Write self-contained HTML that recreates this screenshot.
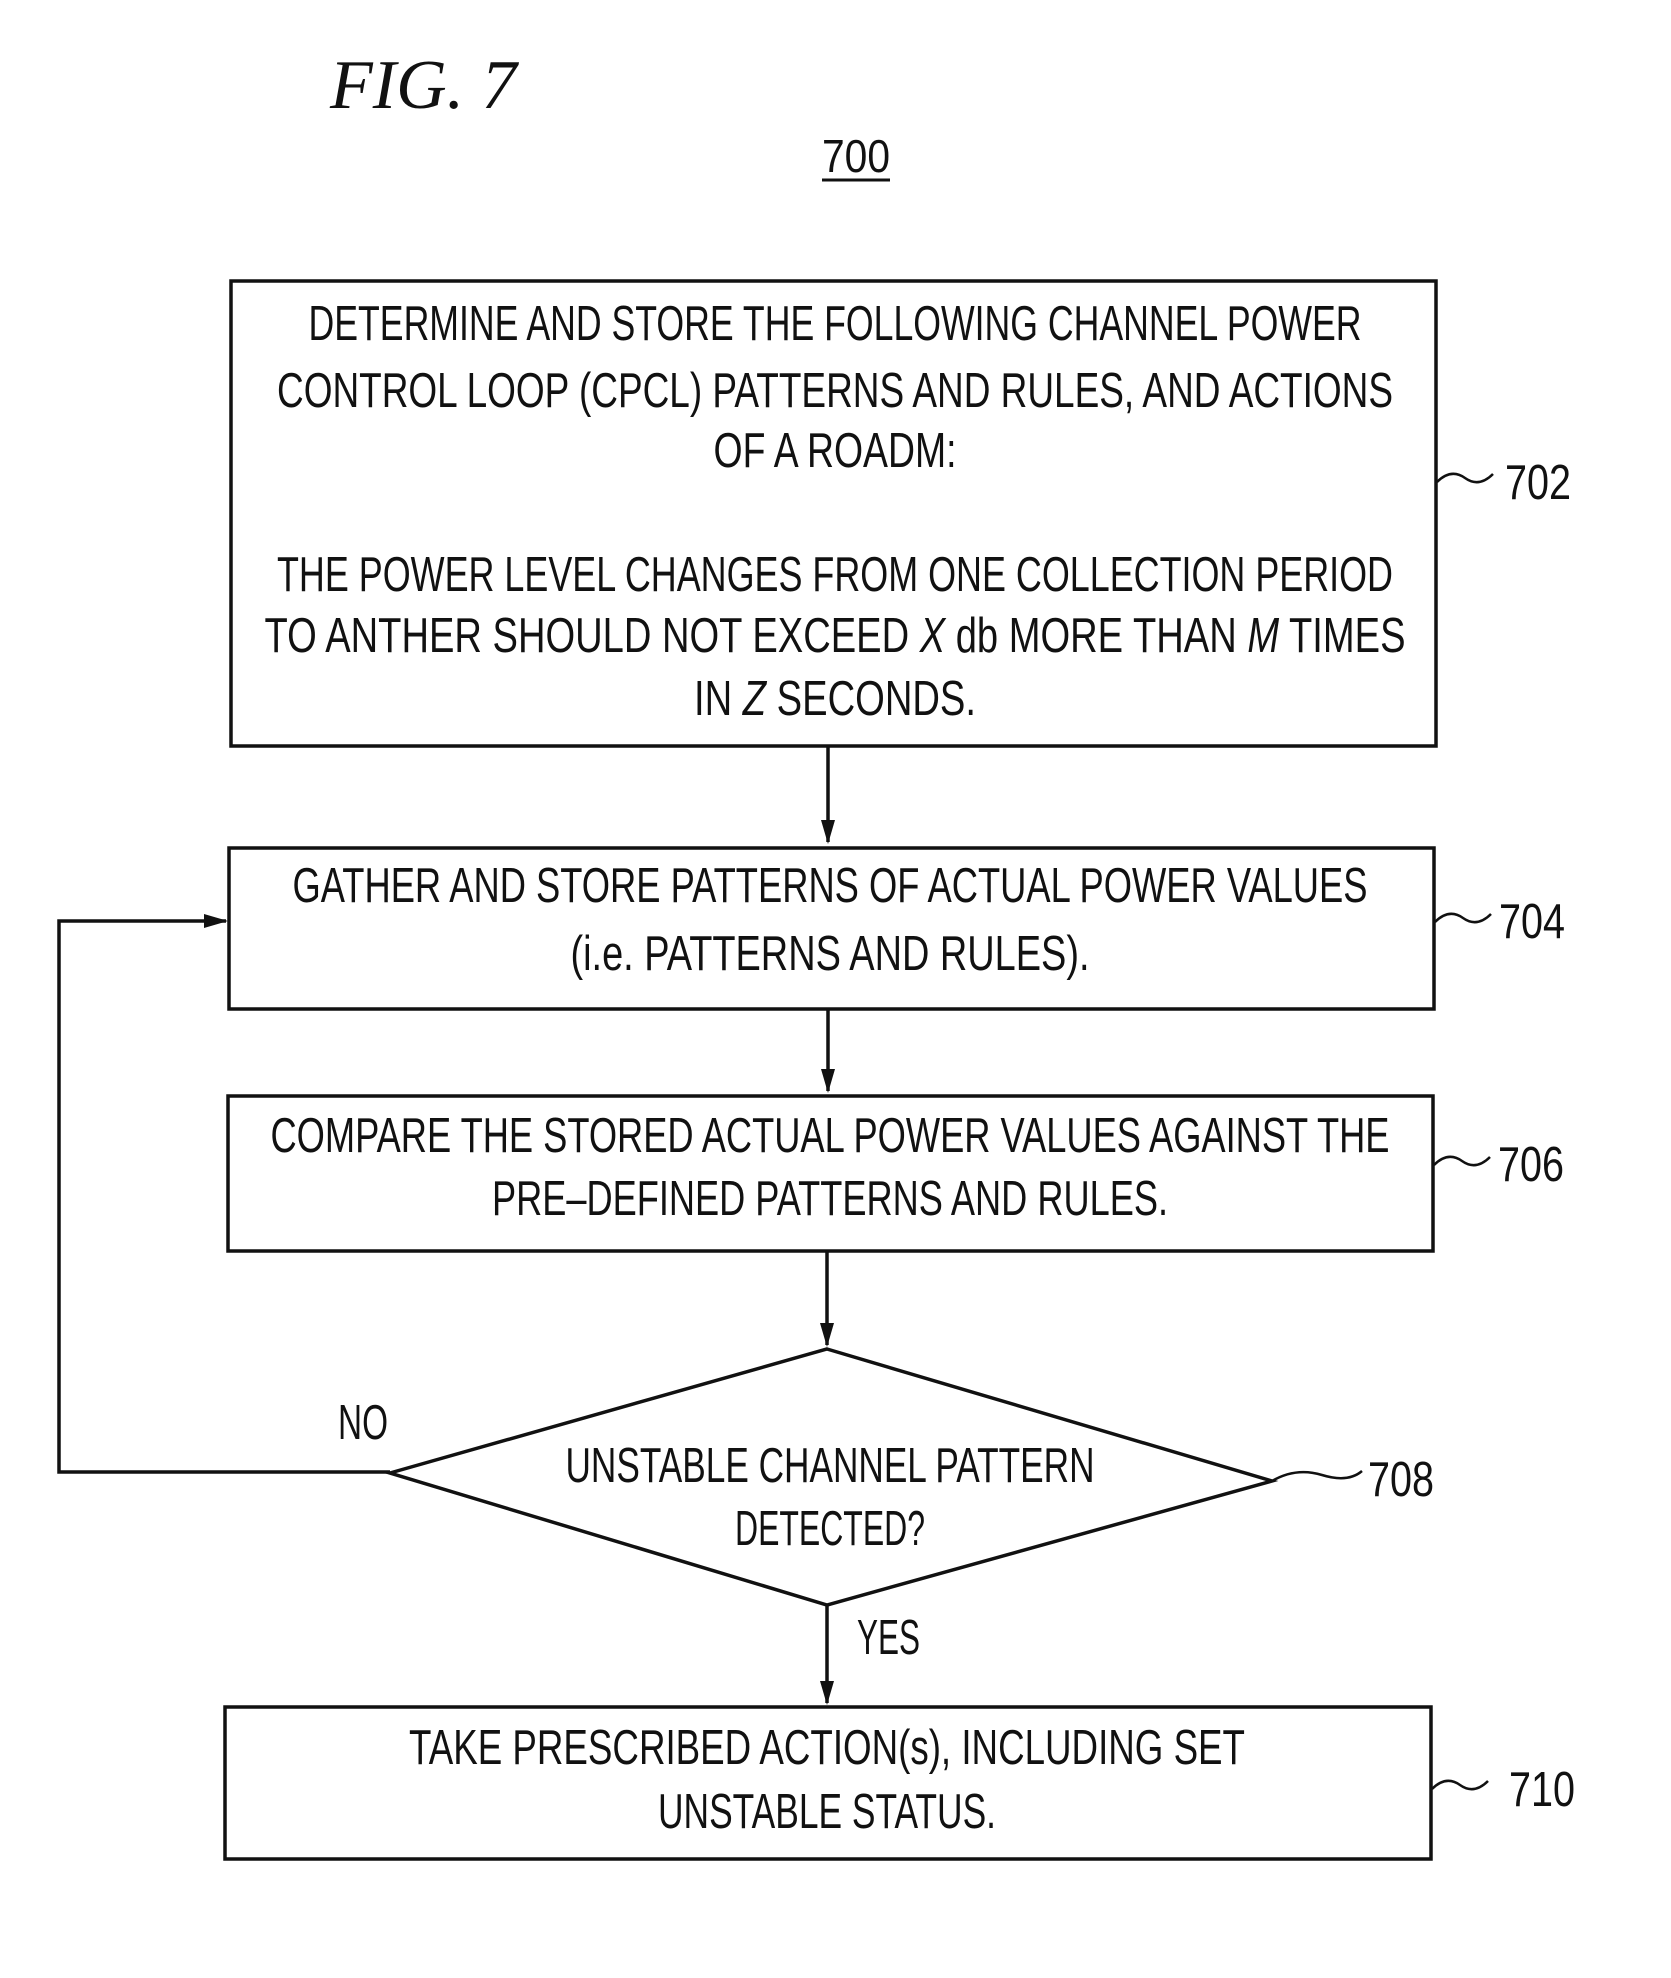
<!DOCTYPE html>
<html><head><meta charset="utf-8"><style>
body{margin:0;background:#fff}
svg text{font-family:"Liberation Sans",sans-serif;font-size:49px;fill:#111}
</style></head><body>
<svg width="1671" height="1973" viewBox="0 0 1671 1973" xmlns="http://www.w3.org/2000/svg">
<defs>
<marker id="b" markerWidth="24" markerHeight="14" refX="22" refY="7" orient="auto" markerUnits="userSpaceOnUse"><path d="M0,0 L24,7 L0,14 Z" fill="#111"/></marker></defs>
<g stroke="#111" stroke-width="3.5" fill="none">
<rect x="231" y="281" width="1205" height="465"/>
<rect x="229" y="848" width="1205" height="161"/>
<rect x="228" y="1096" width="1205" height="155"/>
<polygon points="827,1349 1272,1481 827,1605 390,1473"/>
<rect x="225" y="1707" width="1206" height="152"/>
<line x1="828" y1="746" x2="828" y2="842" marker-end="url(#b)"/>
<line x1="828" y1="1009" x2="828" y2="1091" marker-end="url(#b)"/>
<line x1="827" y1="1251" x2="827" y2="1345" marker-end="url(#b)"/>
<line x1="827" y1="1605" x2="827" y2="1703" marker-end="url(#b)"/>
<polyline points="390,1472 59,1472 59,921 226,921" marker-end="url(#b)"/>
<path d="M1437,482 q14,-14 28,-4 t28,-4" stroke-width="2.5"/>
<path d="M1435,922 q14,-14 28,-4 t28,-4" stroke-width="2.5"/>
<path d="M1434,1165 q14,-14 28,-4 t28,-4" stroke-width="2.5"/>
<path d="M1272,1481 q24,-14 50,-6 t40,-4" stroke-width="2.5"/>
<path d="M1432,1789 q14,-14 28,-4 t28,-4" stroke-width="2.5"/>
<line x1="822" y1="180" x2="890" y2="180" stroke-width="3"/>
</g>
<text x="330" y="108" style="font-family:'Liberation Serif',serif;font-style:italic;font-size:70px">FIG. 7</text>
<text x="856" y="172" text-anchor="middle" style="font-size:46px" textLength="68" lengthAdjust="spacingAndGlyphs">700</text>
<g text-anchor="middle">
<text x="835" y="340" textLength="1053" lengthAdjust="spacingAndGlyphs">DETERMINE  AND  STORE  THE  FOLLOWING  CHANNEL  POWER</text>
<text x="835" y="407" textLength="1116" lengthAdjust="spacingAndGlyphs">CONTROL  LOOP  (CPCL)  PATTERNS  AND  RULES,  AND  ACTIONS</text>
<text x="835" y="467" textLength="243" lengthAdjust="spacingAndGlyphs">OF  A  ROADM:</text>
<text x="835" y="591" textLength="1116" lengthAdjust="spacingAndGlyphs">THE  POWER  LEVEL  CHANGES  FROM  ONE  COLLECTION  PERIOD</text>
<text x="835" y="652" textLength="1141" lengthAdjust="spacingAndGlyphs">TO  ANTHER  SHOULD  NOT  EXCEED  <tspan font-style="italic">X</tspan>  db  MORE  THAN  <tspan font-style="italic">M</tspan>  TIMES</text>
<text x="835" y="715" textLength="282" lengthAdjust="spacingAndGlyphs">IN  <tspan font-style="italic">Z</tspan>  SECONDS.</text>
<text x="830" y="902" textLength="1075" lengthAdjust="spacingAndGlyphs">GATHER  AND  STORE  PATTERNS  OF  ACTUAL  POWER  VALUES</text>
<text x="830" y="970" textLength="519" lengthAdjust="spacingAndGlyphs">(i.e.  PATTERNS  AND  RULES).</text>
<text x="830" y="1152" textLength="1119" lengthAdjust="spacingAndGlyphs">COMPARE  THE  STORED  ACTUAL  POWER  VALUES  AGAINST  THE</text>
<text x="830" y="1215" textLength="676" lengthAdjust="spacingAndGlyphs">PRE–DEFINED  PATTERNS  AND  RULES.</text>
<text x="830" y="1482" textLength="529" lengthAdjust="spacingAndGlyphs">UNSTABLE  CHANNEL  PATTERN</text>
<text x="830" y="1545" textLength="190" lengthAdjust="spacingAndGlyphs">DETECTED?</text>
<text x="827" y="1764" textLength="836" lengthAdjust="spacingAndGlyphs">TAKE  PRESCRIBED  ACTION(s),  INCLUDING  SET</text>
<text x="827" y="1828" textLength="338" lengthAdjust="spacingAndGlyphs">UNSTABLE  STATUS.</text>
</g>
<text x="1505" y="499" textLength="66" lengthAdjust="spacingAndGlyphs">702</text>
<text x="1499" y="938" textLength="66" lengthAdjust="spacingAndGlyphs">704</text>
<text x="1498" y="1181" textLength="66" lengthAdjust="spacingAndGlyphs">706</text>
<text x="1368" y="1496" textLength="66" lengthAdjust="spacingAndGlyphs">708</text>
<text x="1509" y="1806" textLength="66" lengthAdjust="spacingAndGlyphs">710</text>
<text x="338" y="1439" textLength="50" lengthAdjust="spacingAndGlyphs">NO</text>
<text x="857" y="1654" textLength="63" lengthAdjust="spacingAndGlyphs">YES</text>
</svg>
</body></html>
